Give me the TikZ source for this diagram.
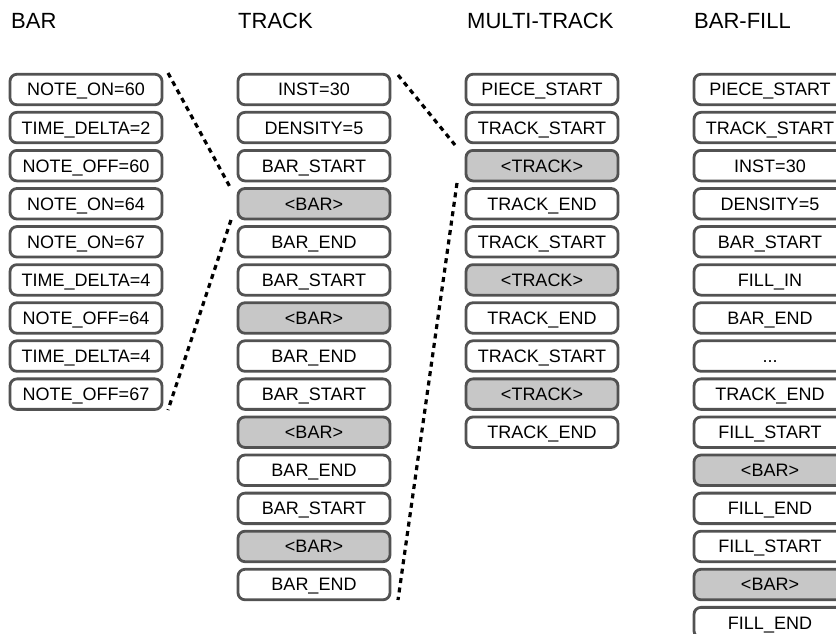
\documentclass[tikz,border=0pt]{standalone}
\usepackage{fontspec}
\setmainfont{Liberation Sans}
\begin{document}
\begin{tikzpicture}[x=1pt,y=-1pt,
  box/.style={draw=black!68, line width=2.8pt, rounded corners=7pt,
    minimum width=152pt, minimum height=30.5pt, inner sep=0pt,
    text height=12.9pt, text depth=0pt,
    font=\fontsize{18}{20}\selectfont, anchor=center},
  plainbox/.style={box, fill=white},
  graybox/.style={box, fill=black!22},
  head/.style={anchor=base west, inner sep=0pt, font=\fontsize{22}{24}\selectfont},
  dots/.style={line width=3.2pt, dash pattern=on 5pt off 4.5pt}]
\path[use as bounding box, clip] (0,0) rectangle (836,634);
\fill[white] (0,0) rectangle (836,634);

\node[head] (hbar) at (11,29) {BAR};
\node[head] (htrack) at (238,29) {TRACK};
\node[head] (hmulti) at (467,29) {MULTI-TRACK};
\node[head] (hfill) at (694,29) {BAR-FILL};

\foreach \t/\s [count=\i from 0] in {NOTE\_ON=60/plainbox, TIME\_DELTA=2/plainbox,
  NOTE\_OFF=60/plainbox, NOTE\_ON=64/plainbox, NOTE\_ON=67/plainbox,
  TIME\_DELTA=4/plainbox, NOTE\_OFF=64/plainbox, TIME\_DELTA=4/plainbox,
  NOTE\_OFF=67/plainbox}
  \node[\s] (bar-\i) at (86,89.5+38.08*\i) {\t};

\foreach \t/\s [count=\i from 0] in {INST=30/plainbox, DENSITY=5/plainbox,
  BAR\_START/plainbox, <BAR>/graybox, BAR\_END/plainbox,
  BAR\_START/plainbox, <BAR>/graybox, BAR\_END/plainbox,
  BAR\_START/plainbox, <BAR>/graybox, BAR\_END/plainbox,
  BAR\_START/plainbox, <BAR>/graybox, BAR\_END/plainbox}
  \node[\s] (trk-\i) at (314,89.5+38.08*\i) {\t};

\foreach \t/\s [count=\i from 0] in {PIECE\_START/plainbox, TRACK\_START/plainbox,
  <TRACK>/graybox, TRACK\_END/plainbox, TRACK\_START/plainbox,
  <TRACK>/graybox, TRACK\_END/plainbox, TRACK\_START/plainbox,
  <TRACK>/graybox, TRACK\_END/plainbox}
  \node[\s] (mul-\i) at (542,89.5+38.08*\i) {\t};

\foreach \t/\s [count=\i from 0] in {PIECE\_START/plainbox, TRACK\_START/plainbox,
  INST=30/plainbox, DENSITY=5/plainbox, BAR\_START/plainbox,
  FILL\_IN/plainbox, BAR\_END/plainbox, {{...}}/plainbox, TRACK\_END/plainbox,
  FILL\_START/plainbox, <BAR>/graybox, FILL\_END/plainbox,
  FILL\_START/plainbox, <BAR>/graybox, FILL\_END/plainbox}
  \node[\s] (fil-\i) at (770,89.5+38.08*\i) {\t};

\coordinate (d1a) at (168,73);
\coordinate (d1b) at (230,187);
\coordinate (d2a) at (231,220);
\coordinate (d2b) at (168,410);
\coordinate (d3a) at (398,75);
\coordinate (d3b) at (455,145);
\coordinate (d4a) at (457,183);
\coordinate (d4b) at (398,600);
\draw[dots] (d1a) -- (d1b);
\draw[dots] (d2a) -- (d2b);
\draw[dots] (d3a) -- (d3b);
\draw[dots] (d4a) -- (d4b);
\end{tikzpicture}
\end{document}
